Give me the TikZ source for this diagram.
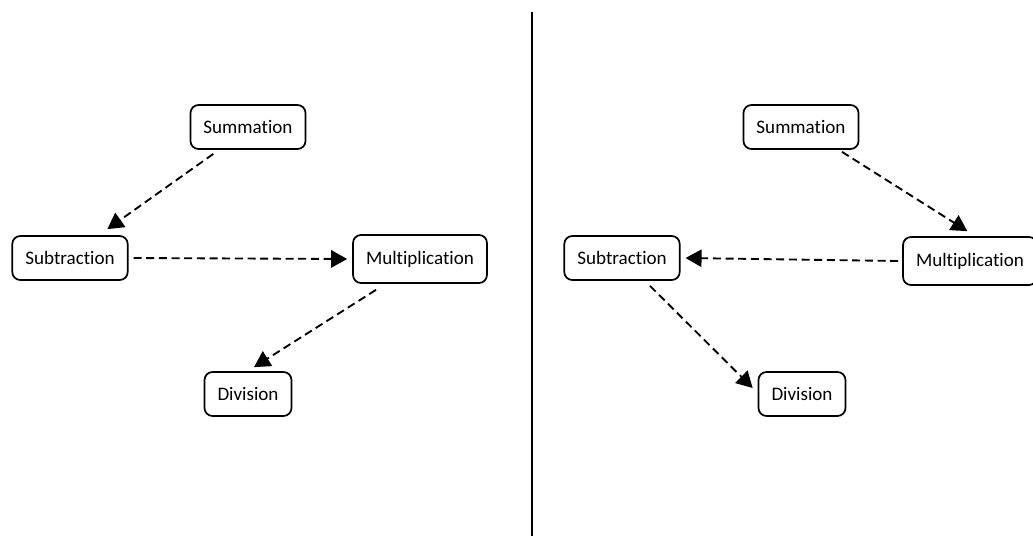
\documentclass[tikz,border=0pt]{standalone}
\usepackage{fontspec}
\setmainfont[Ligatures=NoCommon]{Carlito}
\usetikzlibrary{arrows.meta, positioning, calc}

\tikzset{
  opbox/.style={draw, line width=1.3pt, rounded corners=6pt, minimum height=33pt,
    inner xsep=9.75pt, inner ysep=3pt, font=\fontsize{14.3}{17}\selectfont},
  flow/.style={draw, line width=1.4pt, dash pattern=on 6pt off 3.5pt,
    -{Triangle[length=12pt,width=13pt]}}
}

\begin{document}
\begin{tikzpicture}[x=0.75pt, y=-0.75pt]
\useasboundingbox (0,0) rectangle (1033,536);
% divider
\draw[line width=1.6pt] (532,12) -- (532,536);

% left panel
\node[opbox] (sumL) at (248,127) {Summation};
\node[opbox] (subL) at (70,258) {Subtraction};
\node[opbox, minimum height=36pt] (mulL) at (420,259) {Multiplication};
\node[opbox] (divL) at (248,394) {Division};
\draw[flow] ([xshift=-26pt,yshift=-3pt]sumL.south) -- ([xshift=28pt,yshift=4.5pt]subL.north);
\draw[flow] ([xshift=3.75pt]subL.east) -- ([xshift=-3.75pt]mulL.west);
\draw[flow] ([xshift=-33pt,yshift=-4.5pt]mulL.south) -- ([xshift=4.5pt,yshift=3pt]divL.north);

% right panel
\node[opbox] (sumR) at (801,127) {Summation};
\node[opbox] (subR) at (622,258) {Subtraction};
\node[opbox, minimum height=36pt] (mulR) at (970,261) {Multiplication};
\node[opbox] (divR) at (802,394) {Division};
\draw[flow] ([xshift=30.75pt,yshift=-1.5pt]sumR.south) -- ([xshift=-2pt,yshift=3.75pt]mulR.north);
\draw[flow] ([xshift=-3pt]mulR.west) -- ([xshift=3.75pt]subR.east);
\draw[flow] ([xshift=21pt,yshift=-3.75pt]subR.south) -- ([xshift=-3.75pt,yshift=4.5pt]divR.west);
\end{tikzpicture}
\end{document}
